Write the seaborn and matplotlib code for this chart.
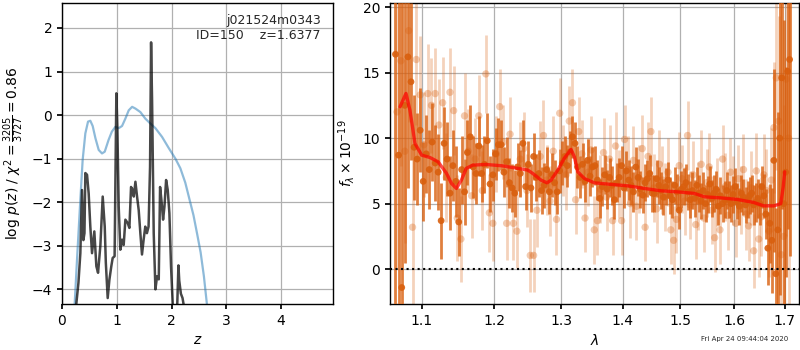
import matplotlib
matplotlib.use("Agg")
import matplotlib.pyplot as plt
import seaborn as sns
from matplotlib.ticker import FixedLocator, FixedFormatter, NullLocator, NullFormatter

# ---------------- left panel: redshift probability ----------------
pz_prior_z = [0.231, 0.274, 0.335, 0.377, 0.426, 0.475, 0.517, 0.56, 0.61, 0.67, 0.73, 0.78,
              0.85, 0.91, 0.974, 1.035, 1.096, 1.157, 1.218, 1.28, 1.34, 1.43, 1.52, 1.61,
              1.705, 1.826, 1.95, 2.07, 2.16, 2.25, 2.33, 2.40, 2.47, 2.53, 2.59, 2.65, 2.80]
pz_prior_logp = [-4.34, -3.32, -1.94, -1.03, -0.42, -0.15, -0.13, -0.25, -0.53, -0.80, -0.88, -0.84,
                 -0.57, -0.38, -0.27, -0.30, -0.25, -0.08, 0.11, 0.19, 0.15, 0.07, -0.08, -0.19,
                 -0.30, -0.50, -0.76, -1.00, -1.22, -1.55, -1.95, -2.30, -2.75, -3.15, -3.70, -4.40, -7.0]

pz_z = [0.256, 0.30, 0.335, 0.365, 0.39, 0.41, 0.426, 0.457, 0.487, 0.517, 0.548, 0.59, 0.627,
        0.658, 0.70, 0.743, 0.78, 0.80, 0.834, 0.865, 0.90, 0.925, 0.96, 0.992, 1.01, 1.035,
        1.065, 1.096, 1.126, 1.157, 1.20, 1.23, 1.26, 1.29, 1.31, 1.34, 1.37, 1.40, 1.43, 1.46,
        1.49, 1.52, 1.55, 1.58, 1.607, 1.626, 1.644, 1.674, 1.705, 1.735, 1.766, 1.79, 1.814,
        1.845, 1.87, 1.90, 1.93, 1.96, 1.99, 2.03, 2.10, 2.125, 2.14, 2.17, 2.20, 2.24, 2.30]
pz_logp = [-4.40, -3.85, -3.17, -1.72, -2.87, -2.71, -1.33, -1.37, -1.80, -2.56, -3.17, -2.67, -3.47,
           -3.62, -3.00, -1.87, -2.56, -3.39, -4.20, -3.78, -3.47, -3.28, -3.24, 0.50, -0.27, -2.10,
           -3.09, -2.86, -2.98, -2.40, -2.48, -2.59, -1.65, -1.72, -1.87, -1.53, -1.87, -2.18, -2.71, -3.20,
           -2.86, -2.56, -2.71, -2.56, -1.19, 1.67, 0.34, -2.71, -4.00, -3.70, -3.77, -1.65, -1.94,
           -2.40, -2.10, -1.49, -1.72, -2.25, -3.47, -4.60, -4.50, -3.45, -3.80, -4.10, -4.20, -4.50, -6.0]

# ---------------- right panel: spectrum ----------------
dark_wave = [1.066, 1.070, 1.074, 1.078, 1.082, 1.086, 1.090, 1.094, 1.098, 1.102,
             1.106, 1.110, 1.114, 1.118, 1.122, 1.126, 1.130, 1.134, 1.138, 1.142,
             1.146, 1.150, 1.154, 1.158, 1.162, 1.166, 1.170, 1.174, 1.178, 1.182,
             1.186, 1.190, 1.194, 1.198, 1.202, 1.206, 1.210, 1.214, 1.218, 1.222,
             1.226, 1.230, 1.234, 1.238, 1.242, 1.246, 1.250, 1.254, 1.258, 1.262,
             1.266, 1.270, 1.274, 1.278, 1.282, 1.286, 1.290, 1.294, 1.298, 1.302,
             1.306, 1.310, 1.314, 1.318, 1.322, 1.326, 1.330, 1.334, 1.338, 1.342,
             1.346, 1.350, 1.354, 1.358, 1.362, 1.366, 1.370, 1.374, 1.378, 1.382,
             1.386, 1.390, 1.394, 1.398, 1.402, 1.406, 1.410, 1.414, 1.418, 1.422,
             1.426, 1.430, 1.434, 1.438, 1.442, 1.446, 1.450, 1.454, 1.458, 1.462,
             1.466, 1.470, 1.474, 1.478, 1.482, 1.486, 1.490, 1.494, 1.498, 1.502,
             1.506, 1.510, 1.514, 1.518, 1.522, 1.526, 1.530, 1.534, 1.538, 1.542,
             1.546, 1.550, 1.554, 1.558, 1.562, 1.566, 1.570, 1.574, 1.578, 1.582,
             1.586, 1.590, 1.594, 1.598, 1.602, 1.606, 1.610, 1.614, 1.618, 1.622,
             1.626, 1.630, 1.634, 1.638, 1.642, 1.646, 1.650, 1.654, 1.658, 1.662,
             1.666, 1.670, 1.674, 1.678, 1.682, 1.686, 1.690, 1.694, 1.698, 1.702,
             1.706, 1.710]
dark_flux = [16.4, 8.7, -1.4, 12.5, 16.2, 14.3, 9.3, 8.4, 10.6, 6.7,
             8.8, 7.6, 9.7, 8.1, 7.4, 3.7, 9.6, 8.4, 5.8, 7.9,
             6.7, 3.6, 7.6, 5.9, 8.9, 10.1, 7.8, 7.3, 9.4, 7.3,
             8.0, 9.8, 6.5, 7.2, 8.8, 9.5, 9.5, 7.4, 8.2, 6.6,
             6.2, 5.8, 7.8, 7.3, 9.6, 6.3, 8.0, 6.2, 8.6, 7.0,
             7.3, 6.0, 6.4, 7.6, 5.9, 7.2, 6.6, 5.9, 7.5, 8.1,
             8.6, 7.9, 8.95, 10.1, 9.6, 7.8, 7.0, 8.0, 6.7, 8.3,
             7.1, 7.8, 7.9, 6.8, 5.4, 6.3, 7.2, 6.1, 7.0, 6.4,
             5.3, 6.6, 7.0, 7.9, 6.2, 7.5, 6.8, 6.4, 5.9, 7.8,
             7.0, 6.1, 5.65, 6.6, 6.9, 7.3, 5.8, 5.77, 6.9, 6.4,
             6.0, 5.5, 6.3, 6.8, 5.6, 5.3, 6.4, 5.9, 4.5, 6.1,
             6.3, 6.6, 5.9, 5.3, 6.0, 5.4, 6.4, 5.8, 5.2, 6.0,
             5.0, 5.7, 6.5, 5.4, 5.8, 6.1, 4.8, 5.6, 5.0, 5.3,
             6.0, 5.3, 5.0, 5.7, 6.3, 5.2, 4.8, 5.8, 5.5, 4.9,
             5.3, 5.6, 5.8, 4.9, 5.1, 5.4, 5.0, 6.3, 5.6, 4.2,
             1.6, 3.5, 2.2, 8.3, -0.35, 3.0, 10.0, 14.6, 5.0, 7.4,
             15.1, 16.0]
dark_err = [25, 25, 25, 12, 10, 6, 4, 3.5, 3.2, 3.0,
            3.0, 3.0, 3.0, 2.9, 2.9, 2.9, 2.8, 2.8, 2.8, 2.7,
            2.7, 2.6, 2.6, 2.5, 2.5, 2.4, 2.4, 2.3, 2.3, 2.2,
            2.2, 2.1, 2.1, 2.0, 2.0, 2.0, 1.9, 1.9, 1.9, 1.9,
            1.8, 1.8, 1.8, 1.8, 1.8, 1.8, 1.8, 1.8, 1.8, 1.8,
            1.8, 1.8, 1.7, 1.7, 1.7, 1.7, 1.7, 1.7, 1.7, 1.7,
            1.6, 1.6, 1.6, 1.6, 1.6, 1.6, 1.6, 1.6, 1.6, 1.6,
            1.5, 1.5, 1.5, 1.5, 1.5, 1.5, 1.5, 1.5, 1.5, 1.5,
            1.5, 1.5, 1.5, 1.5, 1.5, 1.5, 1.5, 1.5, 1.5, 1.5,
            1.4, 1.4, 1.4, 1.4, 1.4, 1.4, 1.4, 1.4, 1.4, 1.4,
            1.4, 1.4, 1.4, 1.4, 1.4, 1.4, 1.4, 1.4, 1.4, 1.4,
            1.4, 1.4, 1.4, 1.4, 1.4, 1.4, 1.4, 1.4, 1.4, 1.4,
            1.4, 1.4, 1.4, 1.4, 1.4, 1.4, 1.4, 1.4, 1.4, 1.4,
            1.4, 1.4, 1.4, 1.4, 1.4, 1.4, 1.4, 1.4, 1.4, 1.4,
            1.4, 1.4, 1.4, 1.5, 1.5, 1.5, 1.6, 1.6, 1.7, 1.9,
            2.8, 3.0, 4.0, 7.0, 5.0, 9.0, 12, 10, 14, 8,
            12, 15]

light_wave = [1.068, 1.073, 1.078, 1.083, 1.088, 1.093, 1.098, 1.103, 1.108, 1.113,
              1.118, 1.123, 1.128, 1.133, 1.138, 1.143, 1.148, 1.153, 1.158, 1.163,
              1.168, 1.173, 1.178, 1.183, 1.188, 1.193, 1.198, 1.203, 1.208, 1.213,
              1.218, 1.223, 1.228, 1.233, 1.238, 1.243, 1.248, 1.253, 1.258, 1.263,
              1.268, 1.273, 1.278, 1.283, 1.288, 1.293, 1.298, 1.303, 1.308, 1.313,
              1.318, 1.323, 1.328, 1.333, 1.338, 1.343, 1.348, 1.353, 1.358, 1.363,
              1.368, 1.373, 1.378, 1.383, 1.388, 1.393, 1.398, 1.403, 1.408, 1.413,
              1.418, 1.423, 1.428, 1.433, 1.438, 1.443, 1.448, 1.453, 1.458, 1.463,
              1.468, 1.473, 1.478, 1.483, 1.488, 1.493, 1.498, 1.503, 1.508, 1.513,
              1.518, 1.523, 1.528, 1.533, 1.538, 1.543, 1.548, 1.553, 1.558, 1.563,
              1.568, 1.573, 1.578, 1.583, 1.588, 1.593, 1.598, 1.603, 1.608, 1.613,
              1.618, 1.623, 1.628, 1.633, 1.638, 1.643, 1.648, 1.653, 1.658, 1.663,
              1.668, 1.673, 1.678, 1.683, 1.688, 1.693, 1.698, 1.703, 1.708]
light_flux = [12.0, 15.9, 9.0, 18.2, 3.2, 16.0, 13.3, 9.5, 13.4, 12.5,
              13.4, 11.0, 12.7, 7.0, 13.5, 12.1, 3.9, 2.3, 11.7, 9.0,
              5.6, 8.4, 11.7, 6.0, 14.9, 4.3, 3.5, 8.8, 12.4, 9.7,
              3.5, 10.3, 3.5, 2.9, 8.4, 9.2, 6.0, 1.05, 1.05, 4.5,
              8.6, 10.2, 6.8, 5.2, 9.0, 3.8, 11.9, 8.3, 7.2, 11.3,
              12.7, 5.3, 10.5, 8.8, 3.9, 7.4, 9.1, 3.0, 3.7, 6.1,
              8.9, 5.5, 8.4, 3.7, 9.4, 6.5, 3.7, 9.9, 7.6, 5.0,
              8.3, 4.8, 6.9, 9.2, 3.2, 8.6, 10.5, 6.2, 4.6, 8.0,
              6.8, 5.5, 7.4, 3.0, 2.2, 3.8, 7.9, 6.9, 5.2, 10.2,
              4.9, 7.2, 3.4, 5.6, 8.0, 3.9, 6.6, 7.8, 4.5, 2.4,
              5.9, 3.0, 8.4, 6.3, 4.1, 7.4, 6.0, 3.5, 6.9, 5.3,
              7.6, 4.2, 3.3, 6.2, 1.4, 7.5, 2.3, 4.0, 7.2, 6.0,
              2.9, 6.8, 10.8, 14.6, 11.3, 1.1, 2.5, 14.5, 10.0]
light_err = [12, 8, 7, 7, 6, 5, 4.5, 4, 3.8, 3.6,
             3.5, 3.5, 3.5, 3.4, 3.4, 3.4, 3.3, 3.3, 3.3, 3.2,
             3.2, 3.1, 3.1, 3.0, 3.0, 3.0, 2.9, 2.9, 2.9, 2.8,
             2.8, 2.8, 2.8, 2.8, 2.8, 2.8, 2.8, 2.8, 2.8, 2.8,
             2.7, 2.7, 2.7, 2.7, 2.7, 2.7, 2.7, 2.7, 2.7, 2.7,
             2.6, 2.6, 2.6, 2.6, 2.6, 2.6, 2.6, 2.6, 2.6, 2.6,
             2.6, 2.6, 2.6, 2.6, 2.6, 2.6, 2.6, 2.6, 2.6, 2.6,
             2.6, 2.6, 2.6, 2.6, 2.6, 2.6, 2.6, 2.6, 2.6, 2.6,
             2.6, 2.6, 2.6, 2.6, 2.6, 2.6, 2.6, 2.6, 2.6, 2.6,
             2.6, 2.6, 2.6, 2.6, 2.6, 2.6, 2.6, 2.6, 2.6, 2.6,
             2.6, 2.6, 2.6, 2.6, 2.6, 2.6, 2.6, 2.6, 2.6, 2.6,
             2.7, 2.7, 2.7, 2.8, 2.8, 2.9, 2.9, 3.0, 3.1, 3.2,
             3.5, 4.0, 5.0, 7.0, 8.0, 9.0, 10, 12, 14]

model_wave = [1.0718, 1.0795, 1.0846, 1.0912, 1.100, 1.111, 1.122, 1.1334, 1.140, 1.1468, 1.1536,
              1.1604, 1.1694, 1.188, 1.211, 1.2344, 1.2493, 1.2568, 1.2694, 1.2785, 1.2846, 1.295,
              1.305, 1.3158, 1.321, 1.3264, 1.337, 1.353, 1.380, 1.408, 1.4366, 1.4656, 1.495,
              1.5255, 1.544, 1.5745, 1.606, 1.638, 1.658, 1.678, 1.692, 1.697, 1.700]
model_flux = [12.39, 13.41, 12.14, 9.59, 8.70, 8.52, 8.19, 7.30, 6.54, 6.16, 6.79,
              7.69, 7.94, 7.99, 7.89, 7.69, 7.56, 7.30, 6.79, 6.59, 6.79, 7.56,
              8.45, 9.14, 8.57, 7.43, 6.92, 6.59, 6.47, 6.36, 6.16, 5.98, 5.90,
              5.78, 5.52, 5.44, 5.32, 5.09, 4.83, 4.83, 5.00, 6.28, 7.43]

z_ticks = [0, 1, 2, 3, 4]
logp_ticks = [-4, -3, -2, -1, 0, 1, 2]
wave_ticks = [1.1, 1.2, 1.3, 1.4, 1.5, 1.6, 1.7]
wave_ticklabels = ['1.1', '1.2', '1.3', '1.4', '1.5', '1.6', '1.7']
flux_ticks = [0, 5, 10, 15, 20]

# ---------------- style ----------------
sns.set_theme(style="ticks")
plt.rcParams['font.family'] = ['DejaVu Sans']
plt.rcParams.update({
    'axes.edgecolor': 'black',
    'axes.linewidth': 1.0,
    'xtick.color': 'black', 'ytick.color': 'black',
    'xtick.labelsize': 10, 'ytick.labelsize': 10,
    'xtick.direction': 'out', 'ytick.direction': 'out',
    'xtick.major.size': 3.5, 'ytick.major.size': 3.5,
    'axes.labelsize': 10, 'axes.labelcolor': 'black',
    'mathtext.fontset': 'dejavusans',
})

fig = plt.figure(figsize=(8, 3.5), dpi=100)
ax1 = fig.add_axes([0.0775, 0.131, 0.339, 0.86])
ax2 = fig.add_axes([0.4875, 0.131, 0.511, 0.86])

grid_kw = dict(color='#b0b0b0', linewidth=0.9)

# left panel
sns.lineplot(x=pz_prior_z, y=pz_prior_logp, ax=ax1, sort=False, estimator=None,
             color='#1f77b4', alpha=0.5, linewidth=1.6)
sns.lineplot(x=pz_z, y=pz_logp, ax=ax1, sort=False, estimator=None,
             color='black', alpha=0.72, linewidth=1.8)
ax1.set_xlim(0, 4.95)
ax1.set_ylim(-4.34, 2.57)
ax1.xaxis.set_major_locator(FixedLocator(z_ticks))
ax1.yaxis.set_major_locator(FixedLocator(logp_ticks))
ax1.grid(True, **grid_kw)
ax1.set_axisbelow(True)
ax1.set_xlabel(r'$z$')
ax1.set_ylabel(r'log $p(z)$ / $\chi^2=\frac{3205}{3727}=0.86$')
ax1.text(0.955, 0.965, 'j021524m0343\nID=150    z=1.6377', transform=ax1.transAxes,
         ha='right', va='top', fontsize=9)

# right panel
orange = '#d95f0e'
ax2.errorbar(light_wave, light_flux, yerr=light_err, fmt='none', ecolor=orange,
             elinewidth=2.0, alpha=0.28, zorder=2)
sns.scatterplot(x=light_wave, y=light_flux, ax=ax2, color=orange, alpha=0.32,
                s=28, edgecolor='none', zorder=3)
ax2.errorbar(dark_wave, dark_flux, yerr=dark_err, fmt='none', ecolor=orange,
             elinewidth=2.0, alpha=0.8, zorder=4)
sns.scatterplot(x=dark_wave, y=dark_flux, ax=ax2, color=orange, alpha=0.9,
                s=24, edgecolor='none', zorder=5)
sns.lineplot(x=model_wave, y=model_flux, ax=ax2, sort=False, estimator=None,
             color='red', alpha=0.7, linewidth=2.4, zorder=6)
ax2.axhline(0, color='black', linestyle=':', linewidth=1.5, zorder=7)

ax2.set_xscale('log')
ax2.set_xlim(1.059, 1.729)
ax2.set_ylim(-2.67, 20.3)
ax2.xaxis.set_major_locator(FixedLocator(wave_ticks))
ax2.xaxis.set_major_formatter(FixedFormatter(wave_ticklabels))
ax2.xaxis.set_minor_locator(NullLocator())
ax2.xaxis.set_minor_formatter(NullFormatter())
ax2.yaxis.set_major_locator(FixedLocator(flux_ticks))
ax2.grid(True, **grid_kw)
ax2.set_axisbelow(True)
ax2.set_xlabel(r'$\lambda$')
ax2.set_ylabel(r'$f_\lambda\times10^{-19}$')

fig.text(0.985, 0.022, 'Fri Apr 24 09:44:04 2020', ha='right', va='bottom', fontsize=5)

fig.savefig('out.png', dpi=100)
